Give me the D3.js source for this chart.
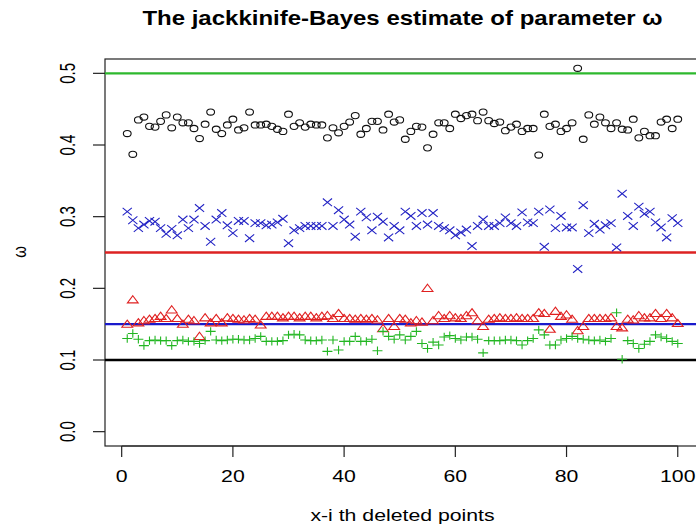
<!DOCTYPE html>
<html lang="en">
<head>
<meta charset="utf-8">
<title></title>
<style>
  body { margin: 0; background: #fff; }
  text { font-family: "Liberation Sans", Arial, sans-serif; fill: #000; }
</style>
</head>
<body>
<svg width="696" height="526"></svg>
<script src="https://cdn.jsdelivr.net/npm/d3@7"></script>
<script>

// deleted point index 1..100
const idx = d3.range(1, 101)

// black circles
const circleVals = [0.416,0.387,0.435,0.439,0.426,0.425,0.433,0.442,0.424,0.439,
  0.431,0.431,0.423,0.409,0.429,0.446,0.422,0.416,0.428,0.436,
  0.421,0.424,0.446,0.428,0.428,0.429,0.426,0.422,0.419,0.443,
  0.426,0.431,0.425,0.429,0.428,0.428,0.410,0.424,0.417,0.426,
  0.432,0.441,0.415,0.423,0.433,0.433,0.421,0.443,0.432,0.435,
  0.408,0.419,0.426,0.425,0.396,0.415,0.431,0.431,0.423,0.443,
  0.437,0.441,0.443,0.434,0.446,0.434,0.430,0.432,0.420,0.425,
  0.429,0.419,0.423,0.423,0.386,0.443,0.426,0.429,0.419,0.423,
  0.431,0.507,0.408,0.442,0.429,0.439,0.431,0.423,0.431,0.422,
  0.421,0.436,0.410,0.419,0.413,0.413,0.432,0.436,0.423,0.436]

// blue crosses
const crossVals = [0.307,0.295,0.284,0.289,0.294,0.293,0.284,0.276,0.283,0.274,
  0.296,0.284,0.296,0.312,0.287,0.265,0.296,0.305,0.288,0.277,
  0.294,0.294,0.270,0.291,0.291,0.288,0.289,0.292,0.297,0.263,
  0.281,0.284,0.287,0.287,0.287,0.287,0.320,0.287,0.309,0.296,
  0.289,0.272,0.307,0.299,0.281,0.300,0.293,0.271,0.287,0.281,
  0.307,0.301,0.287,0.305,0.289,0.305,0.287,0.284,0.281,0.274,
  0.278,0.282,0.259,0.287,0.296,0.287,0.287,0.291,0.299,0.291,
  0.287,0.306,0.292,0.291,0.307,0.258,0.310,0.284,0.301,0.285,
  0.285,0.227,0.316,0.277,0.290,0.282,0.288,0.291,0.257,0.332,
  0.301,0.287,0.314,0.304,0.307,0.292,0.285,0.271,0.298,0.291]

// red triangles
const triVals = [0.149,0.183,0.151,0.154,0.156,0.157,0.160,0.157,0.169,0.157,
  0.149,0.156,0.154,0.132,0.158,0.151,0.157,0.151,0.158,0.157,
  0.156,0.155,0.157,0.156,0.148,0.160,0.160,0.160,0.158,0.160,
  0.160,0.158,0.160,0.160,0.158,0.160,0.161,0.157,0.164,0.157,
  0.157,0.156,0.157,0.156,0.157,0.155,0.143,0.157,0.146,0.157,
  0.156,0.151,0.154,0.152,0.199,0.154,0.161,0.157,0.161,0.158,
  0.157,0.161,0.165,0.154,0.146,0.156,0.157,0.158,0.157,0.157,
  0.158,0.157,0.157,0.157,0.165,0.164,0.142,0.167,0.160,0.162,
  0.156,0.140,0.146,0.157,0.157,0.157,0.157,0.158,0.146,0.144,
  0.156,0.155,0.161,0.158,0.158,0.164,0.157,0.164,0.158,0.150]

// green pluses
const plusVals = [0.130,0.137,0.129,0.120,0.127,0.128,0.127,0.127,0.120,0.127,
  0.128,0.126,0.126,0.123,0.127,0.140,0.128,0.127,0.128,0.129,
  0.129,0.128,0.128,0.130,0.133,0.126,0.126,0.126,0.127,0.135,
  0.136,0.135,0.128,0.127,0.127,0.128,0.112,0.128,0.114,0.126,
  0.126,0.133,0.126,0.126,0.129,0.113,0.140,0.133,0.129,0.135,
  0.128,0.133,0.140,0.123,0.116,0.125,0.121,0.132,0.134,0.130,
  0.128,0.132,0.132,0.129,0.110,0.127,0.127,0.127,0.128,0.128,
  0.127,0.121,0.127,0.130,0.142,0.135,0.121,0.121,0.128,0.130,
  0.133,0.130,0.129,0.128,0.127,0.128,0.126,0.130,0.166,0.101,
  0.127,0.123,0.116,0.122,0.126,0.135,0.132,0.130,0.126,0.123]

// true parameter reference lines
const refVals = [0.5, 0.25, 0.15, 0.1]
const refColors = ["#2db82d", "#dd2222", "#1a1acc", "#000"]

const xTicks = [0, 20, 40, 60, 80, 100]
const yTicks = [0, 0.1, 0.2, 0.3, 0.4, 0.5]

const svg = d3.select("svg")
const stretch = 1.25   // picture is wider than tall

const x = d3.scaleLinear().domain([-3, 104]).range([105, 700]),
      y = d3.scaleLinear().domain([-0.02, 0.52]).range([446, 59])

// box
svg.append("rect")
  .attr("x", x(-3)).attr("y", y(0.52))
  .attr("width", x(104) - x(-3)).attr("height", y(-0.02) - y(0.52))
  .attr("fill", "none").attr("stroke", "#222").attr("stroke-width", 1.2)

// axes
const xAxis = svg.append("g")
xAxis.append("line")
  .attr("x1", x(0)).attr("x2", x(100)).attr("y1", y(-0.02)).attr("y2", y(-0.02))
  .attr("stroke", "#222")
xAxis.selectAll("line.tk").data(xTicks).enter().append("line")
  .attr("class", "tk")
  .attr("x1", d => x(d)).attr("x2", d => x(d))
  .attr("y1", y(-0.02)).attr("y2", y(-0.02) + 11)
  .attr("stroke", "#222").attr("stroke-width", 1.2)
xAxis.selectAll("text").data(xTicks).enter().append("text")
  .attr("transform", d => `translate(${x(d)},482) scale(${stretch},1)`)
  .attr("text-anchor", "middle")
  .style("font-size", "17px")
  .text(d => d)

const yAxis = svg.append("g")
yAxis.selectAll("line.tk").data(yTicks).enter().append("line")
  .attr("class", "tk")
  .attr("x1", x(-3) - 12).attr("x2", x(-3))
  .attr("y1", d => y(d)).attr("y2", d => y(d))
  .attr("stroke", "#222").attr("stroke-width", 1.2)
yAxis.selectAll("text").data(yTicks).enter().append("text")
  .attr("transform", d => `translate(75,${y(d)}) scale(${stretch + 0.2},1) rotate(-90)`)
  .attr("text-anchor", "middle")
  .style("font-size", "15px")
  .text(d => d.toFixed(1))

// reference lines
svg.selectAll("line.ref").data(refVals).enter().append("line")
  .attr("class", "ref")
  .attr("x1", x(-3)).attr("x2", x(104))
  .attr("y1", d => y(d)).attr("y2", d => y(d))
  .attr("stroke", (d, i) => refColors[i])
  .attr("stroke-width", 2.4)

// markers
function marks(vals, path, color) {
  svg.append("g").selectAll("path").data(vals).enter().append("path")
    .attr("transform", (d, i) => `translate(${x(idx[i])},${y(d)})`)
    .attr("d", path)
    .attr("fill", "none")
    .attr("stroke", color)
    .attr("stroke-width", 1.1)
}

marks(triVals, "M0,-4.8L5.4,2.4L-5.4,2.4Z", "#e02020")
marks(plusVals, "M-5,0L5,0M0,-4.2L0,4.2", "#22b622")
marks(crossVals, "M-4.6,-3.8L4.6,3.8M-4.6,3.8L4.6,-3.8", "#2222c4")
svg.append("g").selectAll("ellipse").data(circleVals).enter().append("ellipse")
  .attr("cx", (d, i) => x(idx[i]))
  .attr("cy", d => y(d))
  .attr("rx", 3.9).attr("ry", 3.1)
  .attr("fill", "none").attr("stroke", "#111").attr("stroke-width", 1.1)

// titles
svg.append("text")
  .attr("transform", `translate(${(x(-3) + x(104)) / 2},25) scale(1.2,1)`)
  .attr("text-anchor", "middle")
  .style("font-size", "20px").style("font-weight", 700)
  .text("The jackkinife-Bayes estimate of parameter ω")

svg.append("text")
  .attr("transform", `translate(${(x(-3) + x(104)) / 2},521) scale(${stretch},1)`)
  .attr("text-anchor", "middle")
  .style("font-size", "17px")
  .text("x-i th deleted points")

svg.append("text")
  .attr("transform", `translate(26,252) scale(${stretch},1) rotate(-90)`)
  .attr("text-anchor", "middle")
  .style("font-size", "15px")
  .text("ω")

</script>
</body>
</html>
